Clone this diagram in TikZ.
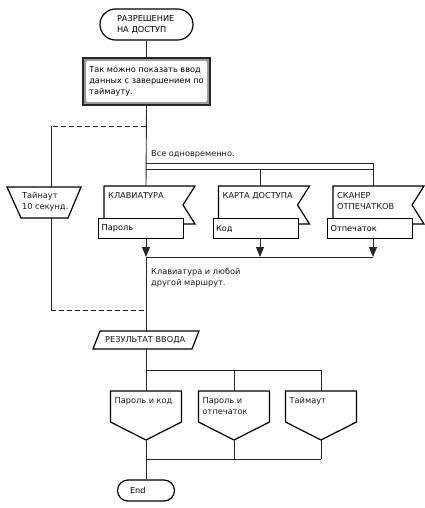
\documentclass[tikz,border=0pt]{standalone}
\usepackage{fontspec}
\setmainfont{DejaVu Sans}
\usetikzlibrary{shapes.misc,arrows.meta}
\newcommand\myfs{\fontsize{8.2}{11}\selectfont}
\begin{document}
\begin{tikzpicture}[x=1pt,y=-1pt,
  outl/.style={draw=black, line width=1.2pt, fill=white},
  txt/.style={inner sep=0pt, align=left, font=\myfs, text=black!90},
  conn/.style={draw=black!85, line width=0.9pt},
  arr/.style={conn, -{Triangle[width=8pt,length=10pt]}},
  dsh/.style={conn, dash pattern=on 5pt off 3pt},
  term/.style={rounded rectangle, draw=black, line width=1.2pt, fill=white, font=\myfs, align=left}]
\useasboundingbox (0,0) rectangle (425,508);

% start
\node[term, minimum width=87pt, minimum height=31pt, inner xsep=14pt, text width=59pt] (start) at (146.5,24.5) {РАЗРЕШЕНИЕ\\НА ДОСТУП};

% comment box
\node[draw=black!85, line width=1.8pt, fill=black!40, minimum width=127pt, minimum height=47pt] (noteo) at (146.5,81.5) {};
\node[fill=white, rounded corners=2pt, minimum width=121pt, minimum height=41pt, inner sep=1pt, align=left, font=\myfs] (note) at (146.5,81.5) {Так можно показать ввод\\данных с завершением по\\таймауту.};

% coordinates
\coordinate (main) at (146,106);
\coordinate (dtop) at (146,126);
\coordinate (tl) at (51,126);
\coordinate (toutn) at (51,187);
\coordinate (touts) at (51,218);
\coordinate (bl) at (51,310);
\coordinate (dbot) at (146,310);
\coordinate (p1l) at (146,163);
\coordinate (p1r) at (373,163);
\coordinate (p2l) at (146,169);
\coordinate (p2m) at (260,169);
\coordinate (p2r) at (373,169);
\coordinate (kin) at (146,186);
\coordinate (cin) at (260,186);
\coordinate (sin) at (373,186);
\coordinate (j1) at (146,257);
\coordinate (j2) at (260,257);
\coordinate (j3) at (373,257);
\coordinate (resn) at (146,331);
\coordinate (ress) at (146,349);
\coordinate (s0) at (146,370);
\coordinate (s1) at (234,370);
\coordinate (s2) at (321,370);
\coordinate (e0) at (146,459);
\coordinate (e1) at (234,459);
\coordinate (e2) at (321,459);

\draw[conn] (start.south) -- (noteo.north);
\draw[conn] (noteo.south) -- (kin);
\draw[dsh] (dtop) -- (tl);
\draw[conn] (tl) -- (toutn);
\draw[conn] (touts) -- (bl);
\draw[dsh] (bl) -- (dbot);

% timeout
\draw[outl] (7,187) -- (81,187) -- (68,218) -- (21,218) -- cycle;
\node[txt, anchor=north west] (tout) at (22,192) {Тайнаут\\10 секунд.};

% parallel
\node[txt, anchor=west] (allat) at (151,154) {Все одновременно.};
\draw[conn] (p1l) -- (p1r) -- (sin);
\draw[conn] (p2l) -- (p2r);
\draw[conn] (p2m) -- (cin);

% flags
\draw[outl] (104,186) -- (195,186) -- (183,205) -- (195,224) -- (104,224) -- cycle;
\node[txt, anchor=north west] (kt) at (108,192) {КЛАВИАТУРА};
\node[outl, minimum width=85pt, minimum height=20pt, text width=79pt, inner sep=3pt, align=left, font=\myfs, anchor=north west] (kbox) at (98,218) {Пароль};

\draw[outl] (218.5,186) -- (309.5,186) -- (297.5,205) -- (309.5,224) -- (218.5,224) -- cycle;
\node[txt, anchor=north west] (ct) at (222.5,192) {КАРТА ДОСТУПА};
\node[outl, minimum width=85pt, minimum height=20pt, text width=79pt, inner sep=3pt, align=left, font=\myfs, anchor=north west] (cbox) at (212.5,218) {Код};

\draw[outl] (333,186) -- (424,186) -- (412,205) -- (424,224) -- (333,224) -- cycle;
\node[txt, anchor=north west] (st) at (337,192) {СКАНЕР\\ОТПЕЧАТКОВ};
\node[outl, minimum width=85pt, minimum height=20pt, text width=79pt, inner sep=3pt, align=left, font=\myfs, anchor=north west] (sbox) at (327,218) {Отпечаток};

\draw[arr] (kbox.south -| j1) -- (j1);
\draw[arr] (cbox.south -| j2) -- (j2);
\draw[arr] (sbox.south -| j3) -- (j3);
\draw[conn] (j1) -- (j3);
\node[txt, anchor=west] (anyr) at (151,277.5) {Клавиатура и любой\\другой маршрут.};
\draw[conn] (j1) -- (resn);

% result
\draw[outl] (100,331) -- (199,331) -- (192,349) -- (93,349) -- cycle;
\node[txt, anchor=west] (res) at (105,340) {РЕЗУЛЬТАТ ВВОДА};

\draw[conn] (ress) -- (s0) -- (s2);

% cases
\draw[outl] (110.5,391) -- (181.5,391) -- (181.5,422) -- (146,440) -- (110.5,422) -- cycle;
\node[txt, anchor=north west] (c1) at (114.5,397) {Пароль и код};
\draw[outl] (198.5,391) -- (269.5,391) -- (269.5,422) -- (234,440) -- (198.5,422) -- cycle;
\node[txt, anchor=north west] (c2) at (202.5,397) {Пароль и\\отпечаток};
\draw[outl] (285.5,391) -- (356.5,391) -- (356.5,422) -- (321,440) -- (285.5,422) -- cycle;
\node[txt, anchor=north west] (c3) at (289.5,397) {Таймаут};

\draw[conn] (s0) -- (146,391);
\draw[conn] (s1) -- (234,391);
\draw[conn] (s2) -- (321,391);
\draw[conn] (146,440) -- (e0);
\draw[conn] (234,440) -- (e1);
\draw[conn] (321,440) -- (e2);
\draw[conn] (e0) -- (e2);

\node[term, minimum width=56pt, minimum height=21pt, inner xsep=12pt, text width=32pt] (end) at (146,490.5) {End};
\draw[conn] (e0) -- (end.north);
\end{tikzpicture}
\end{document}
